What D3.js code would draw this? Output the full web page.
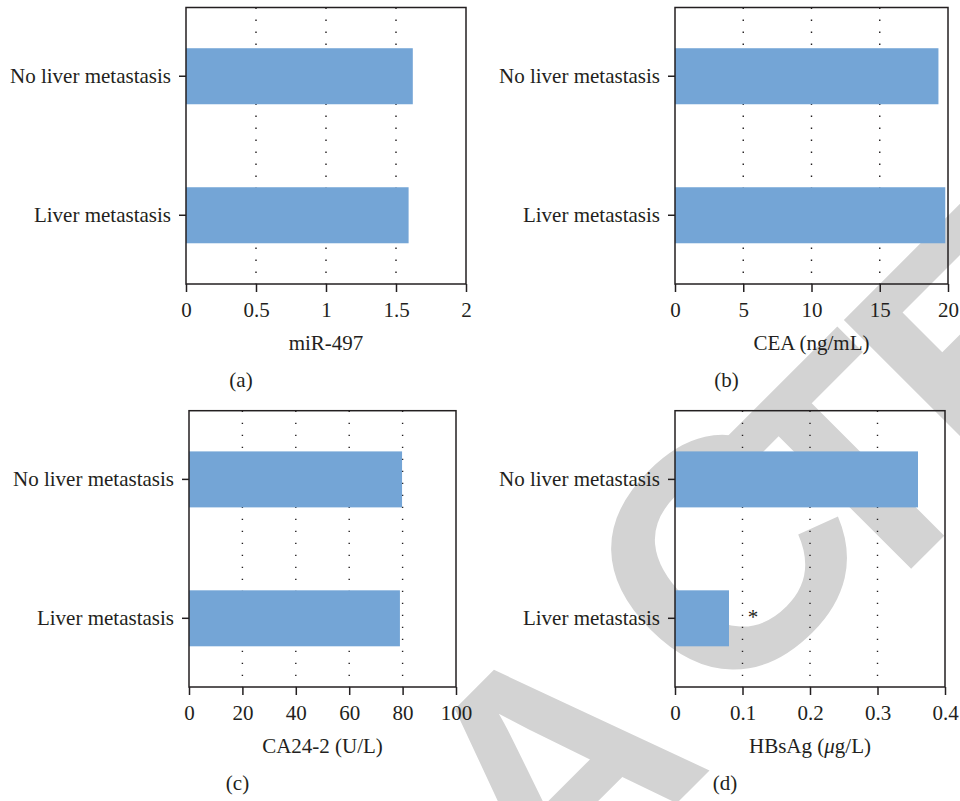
<!DOCTYPE html>
<html>
<head>
<meta charset="utf-8">
<script src="https://cdn.jsdelivr.net/npm/d3@7/dist/d3.min.js"></script>
<style>
  body { margin: 0; background: #ffffff; }
  svg { display: block; }
  text { font-family: "Liberation Serif", "Times New Roman", serif; fill: #231f20; }
</style>
</head>
<body>
<svg id="fig" width="960" height="801"></svg>
<script>
// Groups compared in every panel (top to bottom)
const categories = ["No liver metastasis", "Liver metastasis"];

// Mean levels per group
const mir497Values = [1.62, 1.59];
const ceaValues = [19.3, 19.8];
const ca242Values = [79.8, 79.0];
const hbsagValues = [0.36, 0.08];

// Axis ticks and their printed labels
const mir497Ticks = [0, 0.5, 1, 1.5, 2];
const mir497TickLabels = ["0", "0.5", "1", "1.5", "2"];
const ceaTicks = [0, 5, 10, 15, 20];
const ceaTickLabels = ["0", "5", "10", "15", "20"];
const ca242Ticks = [0, 20, 40, 60, 80, 100];
const ca242TickLabels = ["0", "20", "40", "60", "80", "100"];
const hbsagTicks = [0, 0.1, 0.2, 0.3, 0.4];
const hbsagTickLabels = ["0", "0.1", "0.2", "0.3", "0.4"];

// Significance marks per group
const hbsagMarks = ["", "*"];

const svg = d3.select("#fig");
const INK = "#231f20";
const BAR = "#74a5d6";

// Retraction stamp across the figure, under the plots (per-letter kerning via dx/dy)
svg.append("text")
  .attr("transform", "translate(-76,1556) rotate(-45)")
  .attr("text-anchor", "start")
  .attr("dx", "0 0 0 0 0 36 -70 -16 -16")
  .attr("dy", "0 0 0 0 0 -28 28 0 0")
  .style("font-family", "'Liberation Sans', Arial, sans-serif")
  .style("font-weight", "bold")
  .style("font-size", "325px")
  .style("fill", "#d3d3d3")
  .text("RETRACTED");

const panels = [
  { tag: "(a)", values: mir497Values, ticks: mir497Ticks, tickLabels: mir497TickLabels,
    title: [{ t: "miR-497" }], x0: 186, x1: 466, y0: 7.5, y1: 284 },
  { tag: "(b)", values: ceaValues, ticks: ceaTicks, tickLabels: ceaTickLabels,
    title: [{ t: "CEA (ng/mL)" }], x0: 675, x1: 948, y0: 7.5, y1: 284 },
  { tag: "(c)", values: ca242Values, ticks: ca242Ticks, tickLabels: ca242TickLabels,
    title: [{ t: "CA24-2 (U/L)" }], x0: 189, x1: 456, y0: 410.7, y1: 687 },
  { tag: "(d)", values: hbsagValues, ticks: hbsagTicks, tickLabels: hbsagTickLabels,
    title: [{ t: "HBsAg (" }, { t: "\u03bc", italic: true }, { t: "g/L)" }],
    marks: hbsagMarks, x0: 675, x1: 945, y0: 410.7, y1: 687 }
];

panels.forEach(p => {
  const g = svg.append("g");
  const dmax = p.ticks[p.ticks.length - 1];
  const x = d3.scaleLinear().domain([0, dmax]).range([p.x0, p.x1]);
  const y = d3.scaleBand().domain(categories).range([p.y0, p.y1])
    .paddingInner(0.597).paddingOuter(0.293);

  // dotted reference lines at interior ticks
  g.selectAll("line.grid")
    .data(p.ticks.filter(t => t > 0 && t < dmax))
    .join("line")
    .attr("class", "grid")
    .attr("x1", d => x(d)).attr("x2", d => x(d))
    .attr("y1", p.y0).attr("y2", p.y1)
    .attr("stroke", INK).attr("stroke-width", 1.4)
    .attr("stroke-dasharray", "1.4,10.6");

  // bars
  g.selectAll("rect.bar")
    .data(categories.map((c, i) => ({ c, v: p.values[i] })))
    .join("rect")
    .attr("class", "bar")
    .attr("x", x(0))
    .attr("y", d => y(d.c))
    .attr("width", d => x(d.v) - x(0))
    .attr("height", y.bandwidth())
    .attr("fill", BAR);

  // significance marks
  if (p.marks) {
    g.selectAll("text.mark")
      .data(categories.map((c, i) => ({ c, v: p.values[i], m: p.marks[i] })).filter(d => d.m))
      .join("text")
      .attr("class", "mark")
      .attr("x", d => x(d.v) + 24)
      .attr("y", d => y(d.c) + y.bandwidth() / 2 + 6)
      .attr("text-anchor", "middle")
      .style("font-size", "21px")
      .text(d => d.m);
  }

  // x axis
  const xAxis = g.append("g")
    .attr("transform", `translate(0,${p.y1})`)
    .call(d3.axisBottom(x).tickValues(p.ticks)
      .tickFormat((d, i) => p.tickLabels[i]).tickSize(8).tickPadding(10).tickSizeOuter(0));
  xAxis.select(".domain").remove();
  xAxis.selectAll("line").attr("stroke", INK).attr("stroke-width", 1.5);
  xAxis.selectAll("text").style("font-size", "21px").style("font-family", "'Liberation Serif', serif").attr("fill", INK);

  // y axis
  const yAxis = g.append("g")
    .attr("transform", `translate(${p.x0},0)`)
    .call(d3.axisLeft(y).tickSize(7).tickPadding(8).tickSizeOuter(0));
  yAxis.select(".domain").remove();
  yAxis.selectAll("line").attr("stroke", INK).attr("stroke-width", 1.5);
  yAxis.selectAll("text").style("font-size", "21px").style("font-family", "'Liberation Serif', serif").attr("fill", INK);

  // frame
  g.append("rect")
    .attr("x", p.x0).attr("y", p.y0)
    .attr("width", p.x1 - p.x0).attr("height", p.y1 - p.y0)
    .attr("fill", "none").attr("stroke", INK).attr("stroke-width", 1.5);

  // axis title
  const cx = (p.x0 + p.x1) / 2;
  const title = g.append("text")
    .attr("x", cx).attr("y", p.y1 + 66)
    .attr("text-anchor", "middle")
    .style("font-size", "21px");
  p.title.forEach(s => {
    title.append("tspan").style("font-style", s.italic ? "italic" : "normal").text(s.t);
  });

  // panel letter
  g.append("text")
    .attr("x", cx - 85).attr("y", p.y1 + 103)
    .attr("text-anchor", "middle")
    .style("font-size", "21px")
    .text(p.tag);
});
</script>
</body>
</html>
